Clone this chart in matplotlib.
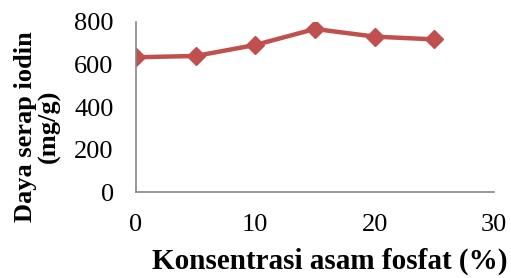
import matplotlib
matplotlib.use('Agg')
import matplotlib.pyplot as plt

# Data
konsentrasi = [0, 5, 10, 15, 20, 25]
daya_serap = [634, 640, 692, 767, 731, 718]
x_ticks = [0, 10, 20, 30]
y_ticks = [0, 200, 400, 600, 800]

plt.rcParams['font.family'] = ['Liberation Serif', 'DejaVu Serif']

fig = plt.figure(figsize=(5.11, 2.78), dpi=100)
ax = fig.add_axes([0.266, 0.309, 0.701, 0.612])

ax.plot(konsentrasi, daya_serap, color='#C0504D', linewidth=3.2,
        marker='D', markersize=9, markerfacecolor='#C0504D', markeredgecolor='#C0504D')

ax.set_xlim(0, 30)
ax.set_ylim(0, 800)
ax.set_xticks(x_ticks)
ax.set_yticks(y_ticks)
ax.tick_params(length=0, labelsize=19)
ax.tick_params(axis='x', pad=16)
ax.tick_params(axis='y', pad=16)

for side in ['top', 'right']:
    ax.spines[side].set_visible(False)
for side in ['left', 'bottom']:
    ax.spines[side].set_color('#868686')
    ax.spines[side].set_linewidth(1.2)
for tl in ax.get_xticklabels() + ax.get_yticklabels():
    tl.set_clip_on(False)

fig.text(0.646, 0.06, 'Konsentrasi asam fosfat (%)', ha='center', va='center',
         fontsize=21, fontweight='bold')
fig.text(0.073, 0.545, 'Daya serap iodin\n(mg/g)', ha='center', va='center',
         rotation=90, fontsize=19, fontweight='bold', multialignment='center',
         linespacing=1.0)

fig.savefig('out.png', dpi=100)
